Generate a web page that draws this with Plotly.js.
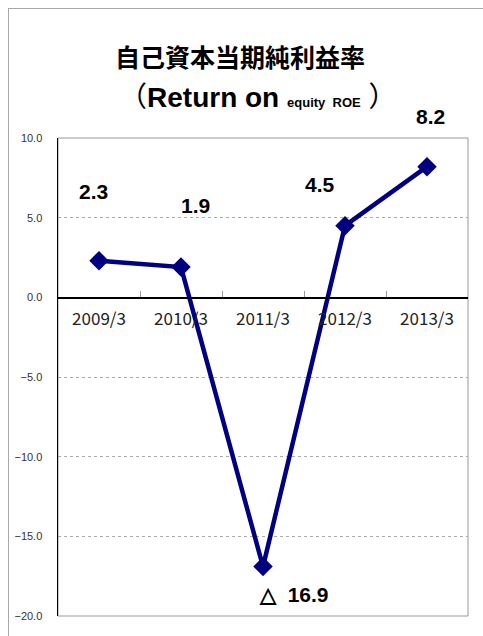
<!DOCTYPE html>
<html><head><meta charset="utf-8">
<script src="https://cdn.plot.ly/plotly-3.0.1.min.js"></script>
<style>
html,body{margin:0;padding:0;overflow:hidden;background:#fff;}
#frame{position:absolute;left:8px;top:8px;width:700px;height:800px;border-left:1px solid #a8a8a8;border-top:1px solid #a8a8a8;pointer-events:none;}
</style>
</head><body>
<div id="chart" style="width:483px;height:636px;"></div>
<div id="frame"></div>
<script>
const categories = ['2009/3','2010/3','2011/3','2012/3','2013/3'];
const roe = [2.3, 1.9, -16.9, 4.5, 8.2];
const valueLabels = ['2.3','1.9','△\u00a0\u00a016.9','4.5','8.2'];
const yTicks = [10, 5, 0, -5, -10, -15, -20];
const yTickText = ['10.0','5.0','0.0','−5.0','−10.0','−15.0','−20.0'];
const labelShiftX = [-6, 14, 31, -25, 3];
const labelShiftY = [69, 62, -28, 41, 50];

const trace = {
  x: categories, y: roe, type: 'scatter', mode: 'lines+markers',
  line: {color: '#000080', width: 4.5},
  marker: {symbol: 'diamond', size: 15, color: '#000080'},
  hoverinfo: 'skip', cliponaxis: false
};

const annotations = categories.map((c, i) => ({
  x: c, y: roe[i], xref: 'x', yref: 'y', text: valueLabels[i], showarrow: false,
  xshift: labelShiftX[i], yshift: labelShiftY[i],
  font: {family: 'Liberation Sans, Arial, sans-serif', size: 21, color: '#000', weight: 'bold'}
}));
annotations.push({
  xref: 'paper', yref: 'paper', x: (257 - 58) / 410, y: (616 - 97) / 478,
  text: '（<b>Return on</b> <span style="font-size:13px"><b>equity\u00a0\u00a0ROE</b></span>\u00a0）',
  showarrow: false, yanchor: 'middle', xanchor: 'center',
  font: {family: 'Liberation Sans, Noto Sans CJK JP, sans-serif', size: 28, color: '#000'}
});

const layout = {
  width: 483, height: 636,
  margin: {l: 58, r: 15, t: 138, b: 20},
  paper_bgcolor: 'rgba(0,0,0,0)', plot_bgcolor: '#fff',
  showlegend: false,
  title: {
    text: '<b>自己資本当期純利益率</b>', x: 0.497, xanchor: 'center',
    y: 1 - 58 / 636, yanchor: 'middle', yref: 'container',
    font: {family: 'Noto Sans CJK JP, sans-serif', size: 25, color: '#000'}
  },
  xaxis: {
    type: 'category', range: [-0.5, 4.5],
    anchor: 'free', position: 20 / 30,
    showline: true, linecolor: '#000', linewidth: 1.5,
    ticks: 'inside', tickson: 'boundaries', ticklen: 6, tickcolor: '#999',
    showgrid: false, zeroline: false,
    tickfont: {family: 'Noto Sans CJK JP, sans-serif', size: 17, color: '#222'},
    ticklabelstandoff: 6, fixedrange: true
  },
  yaxis: {
    range: [-20, 10], tickvals: yTicks, ticktext: yTickText,
    showline: true, linecolor: '#000', linewidth: 1.5,
    showgrid: true, gridcolor: '#aaa', griddash: 'dot', gridwidth: 1,
    zeroline: false, ticks: '', ticklabelstandoff: 12,
    tickfont: {family: 'Liberation Sans, Arial, sans-serif', size: 11, color: '#333'},
    fixedrange: true
  },
  shapes: [
    {type: 'rect', xref: 'paper', yref: 'paper', x0: 0, x1: 1, y0: 0, y1: 1,
     line: {color: '#999', width: 1}, layer: 'below'}
  ],
  annotations: annotations
};

Plotly.newPlot('chart', [trace], layout, {displayModeBar: false, staticPlot: true});
</script>
</body></html>
